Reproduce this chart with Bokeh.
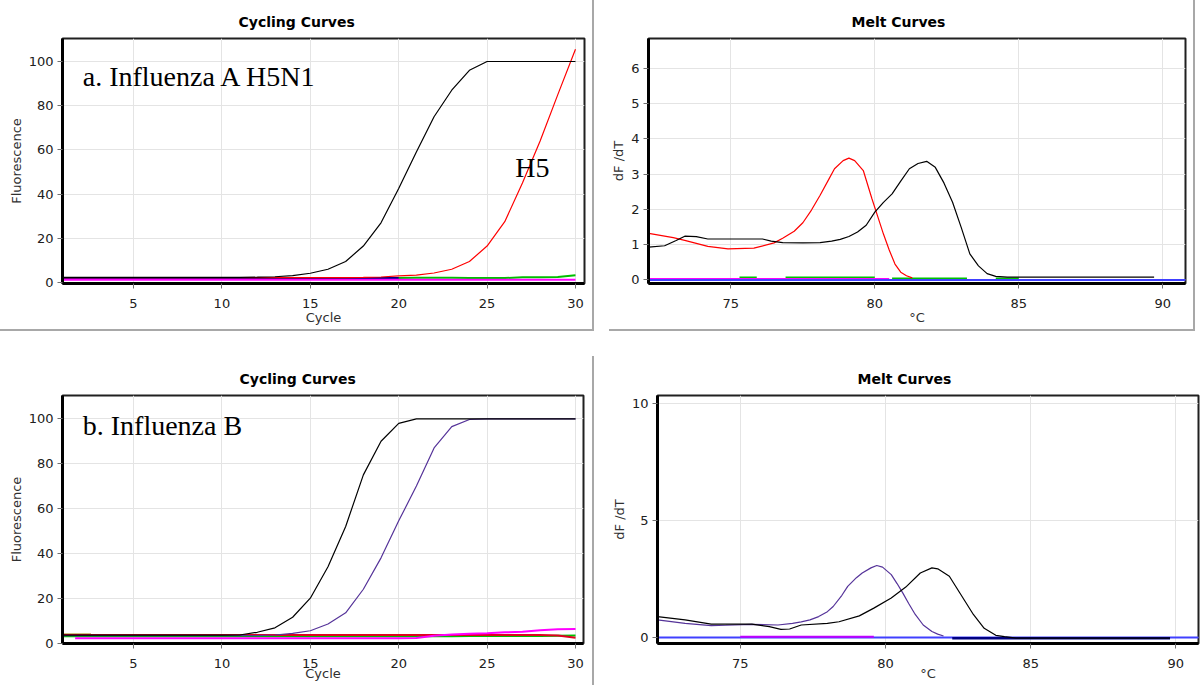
from bokeh.plotting import figure
from bokeh.layouts import row, column
from bokeh.models import Range1d, Label, Spacer, FixedTicker
from bokeh.embed import file_html
from bokeh.resources import INLINE

# ---------------- data ----------------
cycles = list(range(1, 31))

# Panel a: cycling curves (Influenza A H5N1)
a_black = [2.3, 2.3, 2.3, 2.3, 2.3, 2.3, 2.3, 2.3, 2.3, 2.3, 2.3, 2.4, 2.6, 3.1, 4.2,
           6.0, 9.5, 16.5, 27.0, 42.5, 59.0, 75.0, 87.0, 96.0, 100.0, 100.0, 100.0, 100.0, 100.0, 100.0]
a_red = [2.2, 2.2, 2.2, 2.2, 2.2, 2.2, 2.2, 2.2, 2.2, 2.2, 2.2, 2.2, 2.2, 2.2, 2.2,
         2.2, 2.2, 2.3, 2.5, 3.0, 3.3, 4.3, 6.0, 9.5, 16.5, 27.5, 45.0, 64.0, 85.0, 105.5]
a_green = [2.0, 2.0, 2.0, 2.0, 2.0, 2.0, 2.0, 2.0, 2.0, 2.0, 2.0, 2.0, 2.0, 2.0, 2.0,
           2.0, 2.0, 2.0, 2.0, 2.0, 2.1, 2.1, 2.1, 2.0, 2.0, 2.0, 2.4, 2.4, 2.5, 3.3]
a_navy = [2.0, 2.0, 2.0, 2.0, 2.0, 2.0, 2.0, 2.0, 2.0, 2.0, 2.0, 2.0, 2.0, 2.0, 2.0,
          2.0, 2.0, 2.0, 2.0, 2.0]
a_magenta = [1.3, 1.3, 1.3, 1.3, 1.3, 1.3, 1.3, 1.3, 1.3, 1.3, 1.3, 1.3, 1.3, 1.3, 1.3,
             1.3, 1.3, 1.3, 1.3, 1.3, 1.3, 1.3, 1.3, 1.3, 1.3, 1.3, 1.3, 1.3, 1.3, 1.3]

# Panel a: melt curves
a_melt_red_t = [72.15, 73.0, 73.4, 74.2, 74.9, 75.8, 76.5, 76.8, 77.2, 77.5, 77.8, 78.1, 78.4,
                78.6, 78.9, 79.1, 79.3, 79.6, 79.9, 80.1, 80.3, 80.5, 80.7, 80.9, 81.1, 81.3]
a_melt_red = [1.32, 1.2, 1.12, 0.95, 0.88, 0.9, 1.05, 1.18, 1.38, 1.62, 1.98, 2.4, 2.85,
              3.15, 3.38, 3.45, 3.38, 3.1, 2.3, 1.8, 1.3, 0.85, 0.45, 0.22, 0.12, 0.06]
a_melt_black_t = [72.15, 72.7, 73.1, 73.4, 73.8, 74.2, 75.0, 76.1, 76.4, 76.8, 77.5, 78.1, 78.5,
                  78.8, 79.1, 79.4, 79.7, 80.0, 80.3, 80.6, 80.9, 81.2, 81.5, 81.8, 82.1, 82.4,
                  82.7, 83.0, 83.3, 83.6, 83.9, 84.2, 84.6, 85.0, 89.7]
a_melt_black = [0.93, 0.97, 1.12, 1.24, 1.23, 1.16, 1.16, 1.16, 1.1, 1.06, 1.05, 1.06, 1.1,
                1.15, 1.23, 1.36, 1.55, 1.92, 2.2, 2.44, 2.8, 3.15, 3.3, 3.36, 3.19, 2.75,
                2.2, 1.49, 0.74, 0.4, 0.18, 0.1, 0.08, 0.08, 0.08]
nan = float("nan")
a_melt_green_t = [75.3, 75.9, nan, 76.9, 80.0, nan, 80.6, 83.2, nan, 84.2, 85.0]
a_melt_green = [0.07, 0.07, nan, 0.07, 0.07, nan, 0.04, 0.04, nan, 0.04, 0.04]
a_melt_magenta_t = [72.15, 80.5]
a_melt_magenta = [0.03, 0.03]
a_melt_blue_t = [72.15, 90.8]
a_melt_blue = [0.0, 0.0]

# Panel b: cycling curves (Influenza B)
b_black = [3.5, 3.5, 3.5, 3.5, 3.5, 3.5, 3.5, 3.5, 3.5, 3.5, 3.6, 4.8, 6.8, 11.5, 20.0,
           34.0, 52.0, 75.0, 90.0, 98.0, 100.0, 100.0, 100.0, 100.0, 100.0, 100.0, 100.0, 100.0, 100.0, 100.0]
b_purple = [3.3, 3.3, 3.3, 3.3, 3.3, 3.3, 3.3, 3.3, 3.3, 3.3, 3.3, 3.3, 3.6, 4.3, 5.5,
            8.5, 13.5, 24.0, 38.0, 54.5, 70.0, 87.0, 96.5, 99.7, 100.0, 100.0, 100.0, 100.0, 100.0, 100.0]
b_red = [3.6, 3.6, 3.6, 3.6, 3.6, 3.6, 3.6, 3.6, 3.6, 3.6, 3.6, 3.6, 3.6, 3.6, 3.6,
         3.6, 3.6, 3.6, 3.6, 3.6, 3.6, 3.6, 3.6, 3.6, 3.6, 3.6, 3.6, 3.6, 3.4, 2.4]
b_green = [3.0, 3.0, 3.0, 3.0, 3.0, 3.0, 3.0, 3.0, 3.0, 3.0, 3.0, 3.0, 3.0, 3.0, 3.0,
           3.0, 3.0, 3.0, 3.0, 3.0, 3.0, 3.0, 3.0, 3.1, 3.1, 3.1, 3.2, 3.2, 3.3, 3.4]
b_magenta_c = [1.7, 3, 4, 5, 6, 7, 8, 9, 10, 11, 12, 13, 14, 15, 16, 17, 18, 19, 20, 21,
               22, 23, 24, 25, 26, 27, 28, 29, 30]
b_magenta = [2.1, 2.1, 2.1, 2.1, 2.1, 2.1, 2.1, 2.1, 2.1, 2.1, 2.1, 2.1, 2.1, 2.1, 2.1,
             2.1, 2.1, 2.1, 2.1, 2.3, 3.3, 3.8, 4.2, 4.4, 4.8, 5.0, 5.7, 6.2, 6.3]
b_olive_c = [1, 2.6]
b_olive = [3.8, 3.8]

# Panel b: melt curves
b_melt_purple_t = [72.15, 73.1, 74.0, 74.5, 75.4, 76.3, 76.8, 77.1, 77.4, 77.7, 78.0, 78.2, 78.5,
                   78.7, 79.0, 79.2, 79.5, 79.7, 79.9, 80.2, 80.4, 80.6, 80.8, 81.0, 81.3, 81.6,
                   81.8, 82.0]
b_melt_purple = [0.75, 0.6, 0.5, 0.52, 0.56, 0.53, 0.6, 0.66, 0.75, 0.89, 1.1, 1.32, 1.8,
                 2.18, 2.55, 2.75, 2.97, 3.07, 3.0, 2.68, 2.3, 1.89, 1.45, 1.03, 0.53, 0.25,
                 0.14, 0.06]
b_melt_black_t = [72.15, 73.1, 74.0, 75.4, 76.0, 76.4, 76.7, 77.1, 78.0, 78.4, 79.1, 79.6, 80.2,
                  80.7, 81.2, 81.6, 81.8, 82.2, 82.6, 83.0, 83.4, 83.8, 84.1, 84.5, 89.8]
b_melt_black = [0.89, 0.75, 0.57, 0.57, 0.46, 0.34, 0.36, 0.53, 0.6, 0.67, 0.92, 1.25, 1.68,
                2.15, 2.75, 2.97, 2.93, 2.61, 1.82, 1.03, 0.39, 0.09, 0.03, -0.03, -0.03]
b_melt_blue_t = [72.15, 90.8]
b_melt_blue = [0.0, 0.0]
b_melt_magenta_t = [75.0, 79.6]
b_melt_magenta = [0.03, 0.03]
b_melt_navy_t = [82.3, 89.8]
b_melt_navy = [-0.04, -0.04]

cycle_ticks = [5, 10, 15, 20, 25, 30]
temp_ticks = [75, 80, 85, 90]
fluor_ticks = [0, 20, 40, 60, 80, 100]
melt_a_ticks = [0, 1, 2, 3, 4, 5, 6]
melt_b_ticks = [0, 5, 10]

# ---------------- styling helpers ----------------
GRAY = "#a8a8a8"
FONT = "DejaVu Sans"


def make_fig(w, h, xr, yr, borders, title, title_offset, xlabel, ylabel, xt, yt, xlab_standoff):
    p = figure(width=w, height=h, x_range=Range1d(*xr), y_range=Range1d(*yr),
               output_backend="svg", toolbar_location=None,
               min_border_left=borders[0], min_border_right=borders[1],
               min_border_top=borders[2], min_border_bottom=borders[3])
    p.title.text = title
    p.title.align = "left"
    p.title.offset = title_offset
    p.title.text_font = FONT
    p.title.text_font_size = "14px"
    p.title.text_font_style = "bold"
    p.title.text_color = "#000000"
    p.title.standoff = 17
    p.outline_line_color = "#202020"
    p.outline_line_width = 2
    p.outline_line_alpha = 1
    p.background_fill_color = "white"
    p.border_fill_color = "white"
    p.xaxis.ticker = FixedTicker(ticks=xt)
    p.yaxis.ticker = FixedTicker(ticks=yt)
    p.xaxis.axis_label = xlabel
    p.yaxis.axis_label = ylabel
    for ax in (p.xaxis[0], p.yaxis[0]):
        ax.axis_line_color = "black"
        ax.axis_line_width = 3
        ax.major_tick_line_color = "#707070"
        ax.major_tick_out = 5
        ax.major_tick_in = 0
        ax.minor_tick_line_color = None
        ax.major_label_text_font = FONT
        ax.major_label_text_font_size = "13px"
        ax.major_label_text_color = "#202020"
        ax.major_label_standoff = 4
        ax.axis_label_text_font = FONT
        ax.axis_label_text_font_size = "13px"
        ax.axis_label_text_font_style = "normal"
        ax.axis_label_text_color = "#303030"
        ax.axis_label_standoff = 2
    p.xaxis[0].major_label_standoff = 10
    p.xaxis[0].axis_label_standoff = xlab_standoff
    p.xgrid.grid_line_color = "#e4e4e4"
    p.ygrid.grid_line_color = "#e4e4e4"
    p.xgrid.ticker = FixedTicker(ticks=xt)
    p.ygrid.ticker = FixedTicker(ticks=yt)
    return p


# ---------------- panel a: cycling ----------------
p1 = make_fig(592, 329, (0.985, 30.51), (-0.45, 110.4), (62, 8, 38, 46),
              "Cycling Curves", 176, "Cycle", "Fluorescence", cycle_ticks, fluor_ticks, -1)
p1.line(cycles, a_green, color="#00c000", line_width=2)
p1.line(cycles[:len(a_navy)], a_navy, color="#000080", line_width=2)
p1.line(cycles, a_magenta, color="#ff00ff", line_width=2)
p1.line(cycles, a_red, color="#ff0000", line_width=1.2)
p1.line(cycles, a_black, color="#000000", line_width=1.2)
p1.add_layout(Label(x=2.13, y=93.2, text="a. Influenza A H5N1", text_font="Liberation Serif",
                    text_font_size="28px", text_color="black", text_baseline="alphabetic"))
p1.add_layout(Label(x=26.6, y=52.0, text="H5", text_font="Liberation Serif",
                    text_font_size="28px", text_color="black", text_baseline="alphabetic"))

# ---------------- panel a: melt ----------------
p2 = make_fig(599, 329, (72.14, 90.79), (-0.1, 6.84), (54, 8, 38, 46),
              "Melt Curves", 203, "°C", "dF /dT", temp_ticks, melt_a_ticks, -1)
p2.line(a_melt_green_t, a_melt_green, color="#00c000", line_width=2)
p2.line(a_melt_magenta_t, a_melt_magenta, color="#ff00ff", line_width=2)
p2.line(a_melt_blue_t, a_melt_blue, color="#4040ff", line_width=2)
p2.line(a_melt_red_t, a_melt_red, color="#ff0000", line_width=1.2)
p2.line(a_melt_black_t, a_melt_black, color="#000000", line_width=1.2)

# ---------------- panel b: cycling ----------------
p3 = make_fig(592, 354, (0.985, 30.45), (-0.2, 110.4), (62, 9, 64, 42),
              "Cycling Curves", 177, "Cycle", "Fluorescence", cycle_ticks, fluor_ticks, -5)
p3.line(b_olive_c, b_olive, color="#a08000", line_width=2)
p3.line(cycles, b_green, color="#00c000", line_width=2)
p3.line(cycles, b_red, color="#e00020", line_width=2)
p3.line(b_magenta_c, b_magenta, color="#ff00ff", line_width=2)
p3.line(cycles, b_purple, color="#553399", line_width=1.2)
p3.line(cycles, b_black, color="#000000", line_width=1.2)
p3.add_layout(Label(x=2.13, y=96.9, text="b. Influenza B", text_font="Liberation Serif",
                    text_font_size="28px", text_color="black", text_baseline="alphabetic"))

# ---------------- panel b: melt ----------------
p4 = make_fig(609, 354, (72.15, 90.78), (-0.26, 10.33), (63, 5, 64, 42),
              "Melt Curves", 200, "°C", "dF /dT", temp_ticks, melt_b_ticks, -5)
p4.line(b_melt_blue_t, b_melt_blue, color="#4040ff", line_width=2)
p4.line(b_melt_navy_t, b_melt_navy, color="#000080", line_width=2.5)
p4.line(b_melt_magenta_t, b_melt_magenta, color="#c000ff", line_width=2)
p4.line(b_melt_purple_t, b_melt_purple, color="#553399", line_width=1.2)
p4.line(b_melt_black_t, b_melt_black, color="#000000", line_width=1.2)

# ---------------- layout with window-like gray borders ----------------
gs = {"background-color": GRAY}
top = row(
    column(p1, Spacer(width=592, height=2, styles=gs), spacing=0),
    Spacer(width=2, height=331, styles=gs),
    column(p2, row(Spacer(width=15, height=2), Spacer(width=584, height=2, styles=gs), spacing=0), spacing=0),
    Spacer(width=2, height=331, styles=gs),
    spacing=0,
)
bottom = row(
    p3,
    column(Spacer(width=2, height=25), Spacer(width=2, height=329, styles=gs), spacing=0),
    p4,
    spacing=0,
)
layout = column(top, bottom, spacing=0)

open("out.html", "w").write(file_html(layout, INLINE))
